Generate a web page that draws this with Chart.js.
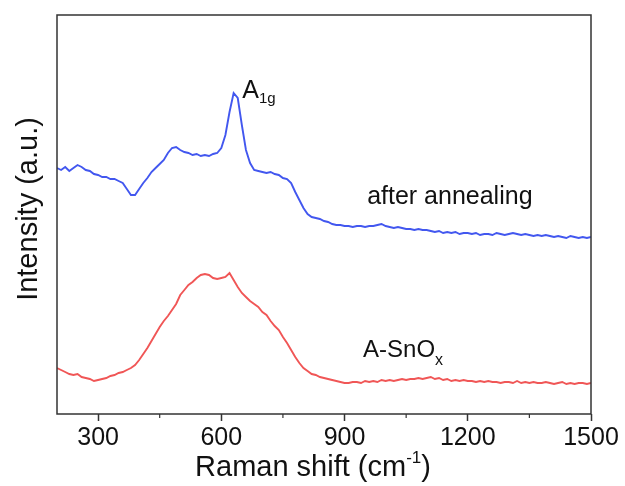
<!DOCTYPE html>
<html>
<head>
<meta charset="utf-8">
<script src="https://cdn.jsdelivr.net/npm/chart.js@4/dist/chart.umd.min.js"></script>
<style>
  html, body { margin: 0; padding: 0; background: #fff; }
  #wrap { width: 625px; height: 486px; }
</style>
</head>
<body>
<div id="wrap"><canvas id="raman"></canvas></div>
<script>
// Raman shift (cm-1), sampled every 10
let shift = [200,210,220,230,240,250,260,270,280,290,300,310,320,330,340,350,360,370,380,390,
  400,410,420,430,440,450,460,470,480,490,500,510,520,530,540,550,560,570,580,590,
  600,610,620,630,640,650,660,670,680,690,700,710,720,730,740,750,760,770,780,790,
  800,810,820,830,840,850,860,870,880,890,900,910,920,930,940,950,960,970,980,990,
  1000,1010,1020,1030,1040,1050,1060,1070,1080,1090,1100,1110,1120,1130,1140,1150,1160,1170,1180,1190,
  1200,1210,1220,1230,1240,1250,1260,1270,1280,1290,1300,1310,1320,1330,1340,1350,1360,1370,1380,1390,
  1400,1410,1420,1430,1440,1450,1460,1470,1480,1490,1500]

// after annealing (offset trace)
let annealed = [246,244,247,243,246,249,247,244,243,240,239,237,237,235,235,233,231,225,219,219,
  225,231,236,242,246,250,254,261,266,267,264,262,261,259,260,258,259,258,260,261,
  266,279,302,321,316,289,264,251,244,243,242,241,242,240,239,236,235,231,222,214,
  206,200,197,196,195,193,192,190,189,189,188,188,187,188,188,187,188,188,189,190,
  188,187,186,187,186,185,185,184,185,184,184,183,182,183,181,182,181,182,180,181,
  181,180,181,179,180,180,179,181,180,179,180,181,180,179,180,179,178,179,178,179,
  178,177,178,177,176,178,177,176,177,176,177]

// A-SnOx (as deposited)
let amorphous = [46,44,42,40,39,40,37,36,35,33,34,35,36,38,39,41,42,44,46,49,
  54,60,66,73,80,87,93,98,104,110,119,124,129,132,136,139,140,139,136,135,
  136,137,141,134,127,121,117,113,110,107,102,99,93,88,84,77,71,64,57,51,
  46,43,40,39,37,36,35,34,33,32,31,31,32,32,31,33,32,33,32,34,
  33,34,33,34,35,34,35,35,36,35,36,37,35,36,34,35,33,34,33,34,
  33,33,32,33,32,33,32,32,31,32,32,31,33,31,32,31,32,31,31,32,
  31,30,31,32,30,31,30,31,31,30,31]

let majorTicks = [300, 600, 900, 1200, 1500]
let minorTicks = [450, 750, 1050, 1350]

const FONT = '"Liberation Sans", Arial, Helvetica, sans-serif'

// text with sub/superscript pieces, drawn left to right
function richText(ctx, parts, x, y, align) {
  let total = 0
  parts.forEach(p => {
    ctx.font = p.size + 'px ' + FONT
    p.w = ctx.measureText(p.t).width
    total += p.w
  })
  let cx = align == 'center' ? x - total / 2 : x
  parts.forEach(p => {
    ctx.font = p.size + 'px ' + FONT
    ctx.fillText(p.t, cx, y + (p.dy || 0))
    cx += p.w
  })
}

const decor = {
  id: 'decor',
  afterDraw(chart) {
    const ctx = chart.ctx
    const a = chart.chartArea
    const xs = chart.scales.x
    const ys = chart.scales.y
    ctx.save()

    // frame round the plot
    ctx.strokeStyle = '#333'
    ctx.lineWidth = 1.5
    ctx.strokeRect(a.left, a.top, a.right - a.left, a.bottom - a.top)

    // minor ticks on the bottom axis
    ctx.lineWidth = 1.2
    minorTicks.forEach(v => {
      let px = xs.getPixelForValue(v)
      ctx.beginPath()
      ctx.moveTo(px, a.bottom)
      ctx.lineTo(px, a.bottom + 4)
      ctx.stroke()
    })

    ctx.fillStyle = '#111'
    ctx.textBaseline = 'alphabetic'
    ctx.textAlign = 'left'

    // peak and trace labels
    richText(ctx, [{t: 'A', size: 25}, {t: '1g', size: 15, dy: 5}],
      xs.getPixelForValue(651), ys.getPixelForValue(316))
    richText(ctx, [{t: 'after annealing', size: 25}],
      xs.getPixelForValue(955), ys.getPixelForValue(210))
    richText(ctx, [{t: 'A-SnO', size: 24}, {t: 'x', size: 16, dy: 8}],
      xs.getPixelForValue(945), ys.getPixelForValue(57))

    // axis titles
    richText(ctx, [{t: 'Raman shift (cm', size: 29}, {t: '-1', size: 17, dy: -13}, {t: ')', size: 29}],
      (a.left + a.right) / 2 - 11, 476, 'center')

    ctx.translate(29, 209)
    ctx.rotate(-Math.PI / 2)
    ctx.textBaseline = 'middle'
    richText(ctx, [{t: 'Intensity (a.u.)', size: 29}], 0, 0, 'center')

    ctx.restore()
  }
}

new Chart('raman', {
  type: 'line',
  data: {
    labels: shift,
    datasets: [{
      label: 'after annealing',
      data: annealed,
      borderColor: '#4257ef',
      borderWidth: 1.9,
      pointRadius: 0,
      tension: 0
    }, {
      label: 'A-SnOx',
      data: amorphous,
      borderColor: '#f05656',
      borderWidth: 1.9,
      pointRadius: 0,
      tension: 0
    }]
  },
  options: {
    responsive: true,
    maintainAspectRatio: false,
    animation: false,
    layout: { padding: { left: 57, right: 34, top: 15, bottom: 0 } },
    plugins: { legend: { display: false }, tooltip: { enabled: false } },
    scales: {
      x: {
        type: 'linear',
        min: 200,
        max: 1500,
        afterBuildTicks: s => { s.ticks = majorTicks.map(v => ({ value: v })) },
        afterFit: s => { s.height = 72 },
        grid: { drawOnChartArea: false, drawTicks: true, tickLength: 7, tickColor: '#333', tickWidth: 1.5 },
        border: { display: false },
        ticks: {
          color: '#111',
          padding: 2,
          maxRotation: 0,
          font: { family: FONT, size: 25 },
          callback: v => String(v)
        }
      },
      y: {
        display: false,
        min: 0,
        max: 399
      }
    }
  },
  plugins: [decor]
})
</script>
</body>
</html>
